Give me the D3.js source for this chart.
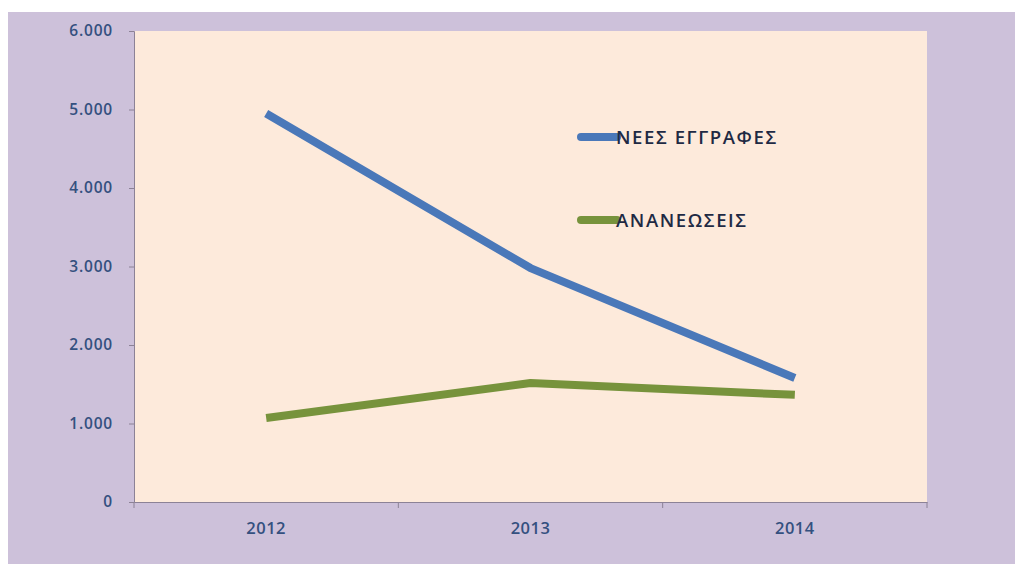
<!DOCTYPE html>
<html><head><meta charset="utf-8">
<script src="https://cdn.jsdelivr.net/npm/d3@7"></script>
<style>body{margin:0;background:#fff;}svg{display:block;}</style>
</head><body>
<svg id="c" width="1015" height="564"></svg>
<script>
const categories = ["2012", "2013", "2014"];
const seriesNames = ["ΝΕΕΣ ΕΓΓΡΑΦΕΣ", "ΑΝΑΝΕΩΣΕΙΣ"];
const newRegistrations = [4950, 2980, 1580];
const renewals = [1070, 1515, 1365];
const yTicks = [0, 1000, 2000, 3000, 4000, 5000, 6000];
const yTickLabels = ["0", "1.000", "2.000", "3.000", "4.000", "5.000", "6.000"];
const colors = ["#4a78b9", "#77933c"];

const svg = d3.select("#c");
svg.append("rect").attr("x", 8).attr("y", 12).attr("width", 1007).attr("height", 552).attr("fill", "#cdc1da");

const m = {left: 134, right: 927, top: 31, bottom: 502};
svg.append("rect").attr("x", m.left).attr("y", m.top).attr("width", m.right - m.left).attr("height", m.bottom - m.top).attr("fill", "#fdeadb");

const x = d3.scaleBand().domain(categories).range([m.left, m.right]).padding(0);
const y = d3.scaleLinear().domain([0, 6000]).range([m.bottom, m.top]);

const font = "'Open Sans', 'Liberation Sans', sans-serif";
const yAxis = d3.axisLeft(y).tickValues(yTicks).tickSize(5).tickPadding(16)
  .tickFormat((d, i) => yTickLabels[i]);
const gy = svg.append("g").attr("transform", `translate(${m.left},0)`).call(yAxis);
gy.select(".domain").attr("stroke", "#8c8296");
gy.selectAll(".tick line").attr("stroke", "#8c8296");
gy.selectAll(".tick text").attr("fill", "#34507f").attr("font-size", 15.5).attr("font-weight", 600)
  .attr("letter-spacing", 0.8).attr("font-family", font);

const xAxis = d3.axisBottom(x).tickSize(0).tickPadding(20);
const gx = svg.append("g").attr("transform", `translate(0,${m.bottom})`).call(xAxis);
gx.select(".domain").attr("stroke", "#8c8296");
gx.selectAll(".tick text").attr("fill", "#34507f").attr("font-size", 16.5).attr("font-weight", 600)
  .attr("letter-spacing", 0.5).attr("font-family", font);
// boundary ticks
const bounds = categories.map(c => x(c)).concat([x(categories[categories.length - 1]) + x.bandwidth()]);
svg.append("g").selectAll("line").data(bounds).join("line")
  .attr("x1", d => d).attr("x2", d => d).attr("y1", m.bottom).attr("y2", m.bottom + 6)
  .attr("stroke", "#8c8296");

const line = d3.line().x((d, i) => x(categories[i]) + x.bandwidth() / 2).y(d => y(d));
[newRegistrations, renewals].forEach((s, k) => {
  svg.append("path").datum(s).attr("d", line).attr("fill", "none")
    .attr("stroke", colors[k]).attr("stroke-width", 8).attr("stroke-linejoin", "round").attr("stroke-linecap", "butt");
});

const legY = [137, 220];
seriesNames.forEach((n, k) => {
  svg.append("line").attr("x1", 581).attr("x2", 617).attr("y1", legY[k]).attr("y2", legY[k])
    .attr("stroke", colors[k]).attr("stroke-width", 8).attr("stroke-linecap", "round");
  svg.append("text").attr("x", 616).attr("y", legY[k] + 7).text(n)
    .attr("fill", "#1f2a44").attr("font-size", 18.5).attr("font-weight", 600).attr("letter-spacing", 1.6)
    .attr("font-family", font);
});
</script>
</body></html>
